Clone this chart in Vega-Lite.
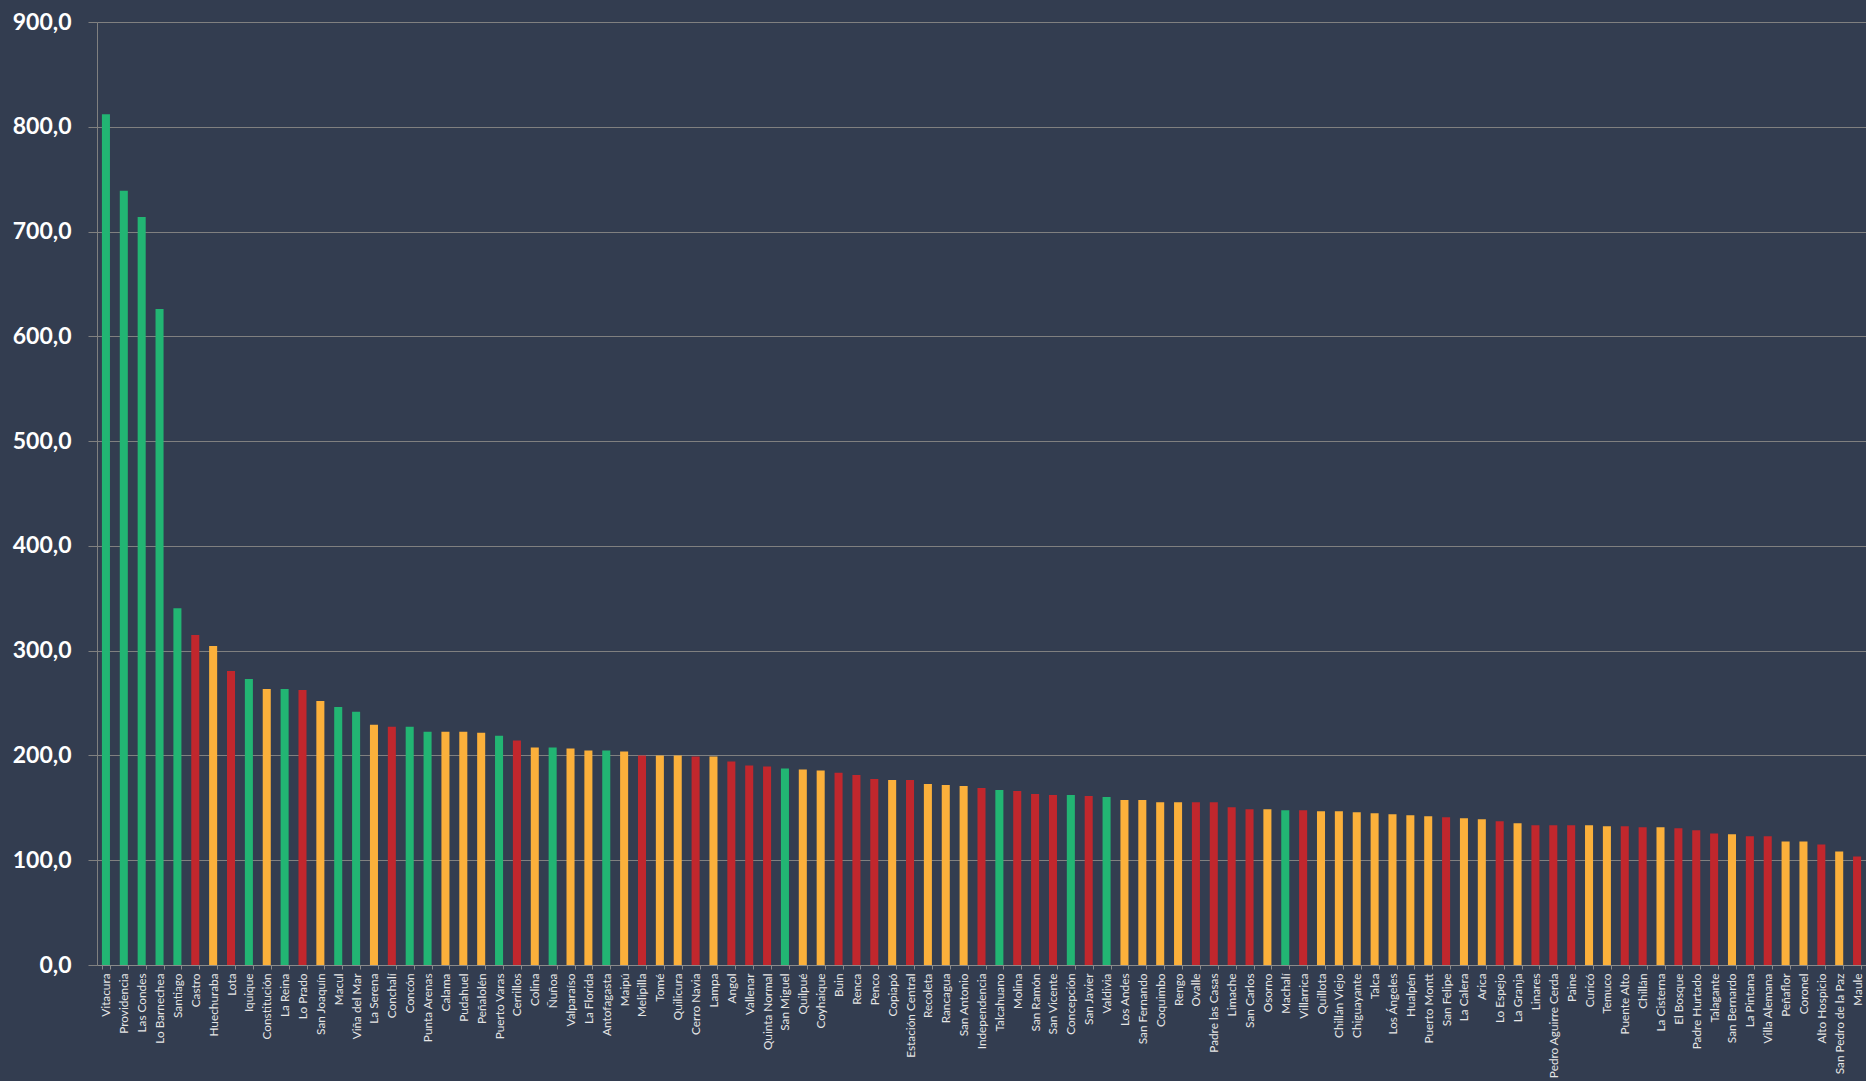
{
  "$schema": "https://vega.github.io/schema/vega-lite/v6.json",
  "width": 1769,
  "height": 943,
  "autosize": {"type": "none"},
  "padding": {"left": 97, "top": 22, "right": 0, "bottom": 116},
  "background": "#333d50",
  "config": {"view": {"stroke": null}},
  "data": {"values": [
    {"comuna": "Vitacura", "valor": 812, "grupo": "Verde"},
    {"comuna": "Providencia", "valor": 739, "grupo": "Verde"},
    {"comuna": "Las Condes", "valor": 714, "grupo": "Verde"},
    {"comuna": "Lo Barnechea", "valor": 626, "grupo": "Verde"},
    {"comuna": "Santiago", "valor": 340.6, "grupo": "Verde"},
    {"comuna": "Castro", "valor": 314.9, "grupo": "Rojo"},
    {"comuna": "Huechuraba", "valor": 304.4, "grupo": "Amarillo"},
    {"comuna": "Lota", "valor": 280.6, "grupo": "Rojo"},
    {"comuna": "Iquique", "valor": 273, "grupo": "Verde"},
    {"comuna": "Constitución", "valor": 263.5, "grupo": "Amarillo"},
    {"comuna": "La Reina", "valor": 263.5, "grupo": "Verde"},
    {"comuna": "Lo Prado", "valor": 262.5, "grupo": "Rojo"},
    {"comuna": "San Joaquín", "valor": 252, "grupo": "Amarillo"},
    {"comuna": "Macul", "valor": 246.3, "grupo": "Verde"},
    {"comuna": "Viña del Mar", "valor": 241.6, "grupo": "Verde"},
    {"comuna": "La Serena", "valor": 229.2, "grupo": "Amarillo"},
    {"comuna": "Conchalí", "valor": 227.3, "grupo": "Rojo"},
    {"comuna": "Concón", "valor": 227.3, "grupo": "Verde"},
    {"comuna": "Punta Arenas", "valor": 222.5, "grupo": "Verde"},
    {"comuna": "Calama", "valor": 222.5, "grupo": "Amarillo"},
    {"comuna": "Pudahuel", "valor": 222.5, "grupo": "Amarillo"},
    {"comuna": "Peñalolén", "valor": 221.6, "grupo": "Amarillo"},
    {"comuna": "Puerto Varas", "valor": 218.7, "grupo": "Verde"},
    {"comuna": "Cerrillos", "valor": 214.2, "grupo": "Rojo"},
    {"comuna": "Colina", "valor": 207.6, "grupo": "Amarillo"},
    {"comuna": "Ñuñoa", "valor": 207.6, "grupo": "Verde"},
    {"comuna": "Valparaíso", "valor": 206.7, "grupo": "Amarillo"},
    {"comuna": "La Florida", "valor": 204.8, "grupo": "Amarillo"},
    {"comuna": "Antofagasta", "valor": 204.8, "grupo": "Verde"},
    {"comuna": "Maipú", "valor": 203.8, "grupo": "Amarillo"},
    {"comuna": "Melipilla", "valor": 200, "grupo": "Rojo"},
    {"comuna": "Tomé", "valor": 200, "grupo": "Amarillo"},
    {"comuna": "Quilicura", "valor": 200, "grupo": "Amarillo"},
    {"comuna": "Cerro Navia", "valor": 199, "grupo": "Rojo"},
    {"comuna": "Lampa", "valor": 199, "grupo": "Amarillo"},
    {"comuna": "Angol", "valor": 194.3, "grupo": "Rojo"},
    {"comuna": "Vallenar", "valor": 190.5, "grupo": "Rojo"},
    {"comuna": "Quinta Normal", "valor": 189.5, "grupo": "Rojo"},
    {"comuna": "San Miguel", "valor": 187.6, "grupo": "Verde"},
    {"comuna": "Quilpué", "valor": 186.7, "grupo": "Amarillo"},
    {"comuna": "Coyhaique", "valor": 185.7, "grupo": "Amarillo"},
    {"comuna": "Buin", "valor": 183.6, "grupo": "Rojo"},
    {"comuna": "Renca", "valor": 181.4, "grupo": "Rojo"},
    {"comuna": "Penco", "valor": 177.6, "grupo": "Rojo"},
    {"comuna": "Copiapó", "valor": 176.6, "grupo": "Amarillo"},
    {"comuna": "Estación Central", "valor": 176.6, "grupo": "Rojo"},
    {"comuna": "Recoleta", "valor": 172.8, "grupo": "Amarillo"},
    {"comuna": "Rancagua", "valor": 171.8, "grupo": "Amarillo"},
    {"comuna": "San Antonio", "valor": 170.8, "grupo": "Amarillo"},
    {"comuna": "Independencia", "valor": 168.9, "grupo": "Rojo"},
    {"comuna": "Talcahuano", "valor": 167, "grupo": "Verde"},
    {"comuna": "Molina", "valor": 166, "grupo": "Rojo"},
    {"comuna": "San Ramón", "valor": 163.1, "grupo": "Rojo"},
    {"comuna": "San Vicente", "valor": 162.2, "grupo": "Rojo"},
    {"comuna": "Concepción", "valor": 162.2, "grupo": "Verde"},
    {"comuna": "San Javier", "valor": 161.2, "grupo": "Rojo"},
    {"comuna": "Valdivia", "valor": 160.3, "grupo": "Verde"},
    {"comuna": "Los Andes", "valor": 157.4, "grupo": "Amarillo"},
    {"comuna": "San Fernando", "valor": 157.4, "grupo": "Amarillo"},
    {"comuna": "Coquimbo", "valor": 155.4, "grupo": "Amarillo"},
    {"comuna": "Rengo", "valor": 155.4, "grupo": "Amarillo"},
    {"comuna": "Ovalle", "valor": 155.4, "grupo": "Rojo"},
    {"comuna": "Padre las Casas", "valor": 155.4, "grupo": "Rojo"},
    {"comuna": "Limache", "valor": 150.6, "grupo": "Rojo"},
    {"comuna": "San Carlos", "valor": 148.7, "grupo": "Rojo"},
    {"comuna": "Osorno", "valor": 148.7, "grupo": "Amarillo"},
    {"comuna": "Machalí", "valor": 147.8, "grupo": "Verde"},
    {"comuna": "Villarrica", "valor": 147.8, "grupo": "Rojo"},
    {"comuna": "Quillota", "valor": 146.8, "grupo": "Amarillo"},
    {"comuna": "Chillán Viejo", "valor": 146.8, "grupo": "Amarillo"},
    {"comuna": "Chiguayante", "valor": 145.8, "grupo": "Amarillo"},
    {"comuna": "Talca", "valor": 144.9, "grupo": "Amarillo"},
    {"comuna": "Los Ángeles", "valor": 143.9, "grupo": "Amarillo"},
    {"comuna": "Hualpén", "valor": 142.9, "grupo": "Amarillo"},
    {"comuna": "Puerto Montt", "valor": 142, "grupo": "Amarillo"},
    {"comuna": "San Felipe", "valor": 141, "grupo": "Rojo"},
    {"comuna": "La Calera", "valor": 140, "grupo": "Amarillo"},
    {"comuna": "Arica", "valor": 139.1, "grupo": "Amarillo"},
    {"comuna": "Lo Espejo", "valor": 137.2, "grupo": "Rojo"},
    {"comuna": "La Granja", "valor": 135.3, "grupo": "Amarillo"},
    {"comuna": "Linares", "valor": 133.3, "grupo": "Rojo"},
    {"comuna": "Pedro Aguirre Cerda", "valor": 133.3, "grupo": "Rojo"},
    {"comuna": "Paine", "valor": 133.3, "grupo": "Rojo"},
    {"comuna": "Curicó", "valor": 133.3, "grupo": "Amarillo"},
    {"comuna": "Temuco", "valor": 132.4, "grupo": "Amarillo"},
    {"comuna": "Puente Alto", "valor": 132.4, "grupo": "Rojo"},
    {"comuna": "Chillán", "valor": 131.4, "grupo": "Rojo"},
    {"comuna": "La Cisterna", "valor": 131.4, "grupo": "Amarillo"},
    {"comuna": "El Bosque", "valor": 130.4, "grupo": "Rojo"},
    {"comuna": "Padre Hurtado", "valor": 128.5, "grupo": "Rojo"},
    {"comuna": "Talagante", "valor": 125.6, "grupo": "Rojo"},
    {"comuna": "San Bernardo", "valor": 124.7, "grupo": "Amarillo"},
    {"comuna": "La Pintana", "valor": 122.8, "grupo": "Rojo"},
    {"comuna": "Villa Alemana", "valor": 122.8, "grupo": "Rojo"},
    {"comuna": "Peñaflor", "valor": 117.9, "grupo": "Amarillo"},
    {"comuna": "Coronel", "valor": 117.9, "grupo": "Amarillo"},
    {"comuna": "Alto Hospicio", "valor": 115.1, "grupo": "Rojo"},
    {"comuna": "San Pedro de la Paz", "valor": 108.3, "grupo": "Amarillo"},
    {"comuna": "Maule", "valor": 103.5, "grupo": "Rojo"}
  ]},
  "mark": {"type": "bar"},
  "encoding": {
    "x": {
      "field": "comuna",
      "type": "nominal",
      "sort": null,
      "scale": {"paddingInner": 0.55, "paddingOuter": 0.275},
      "axis": {
        "title": null,
        "labelAngle": -90,
        "labelAlign": "right",
        "labelBaseline": "middle",
        "labelFont": "Lato",
        "labelFontSize": 11.8,
        "labelColor": "#e6e6e6",
        "labelPadding": 4,
        "labelOverlap": false,
        "labelLimit": 200,
        "tickBand": "extent",
        "tickSize": 4,
        "tickColor": "#8a8a8a",
        "domainColor": "#8a8a8a",
        "grid": false
      }
    },
    "y": {
      "field": "valor",
      "type": "quantitative",
      "scale": {"domain": [0, 900], "nice": false},
      "axis": {
        "title": null,
        "values": [0, 100, 200, 300, 400, 500, 600, 700, 800, 900],
        "labelExpr": "replace(format(datum.value, '.1f'), '.', ',')",
        "labelFont": "Lato",
        "labelFontSize": 23,
        "labelFontWeight": "bold",
        "labelColor": "#ffffff",
        "labelPadding": 17,
        "tickSize": 9,
        "tickColor": "#808080",
        "domainColor": "#808080",
        "grid": true,
        "gridColor": "#808080",
        "gridWidth": 1
      }
    },
    "color": {
      "field": "grupo",
      "type": "nominal",
      "scale": {"domain": ["Verde", "Amarillo", "Rojo"], "range": ["#22b573", "#fbb03b", "#c1272d"]},
      "legend": null
    }
  }
}
